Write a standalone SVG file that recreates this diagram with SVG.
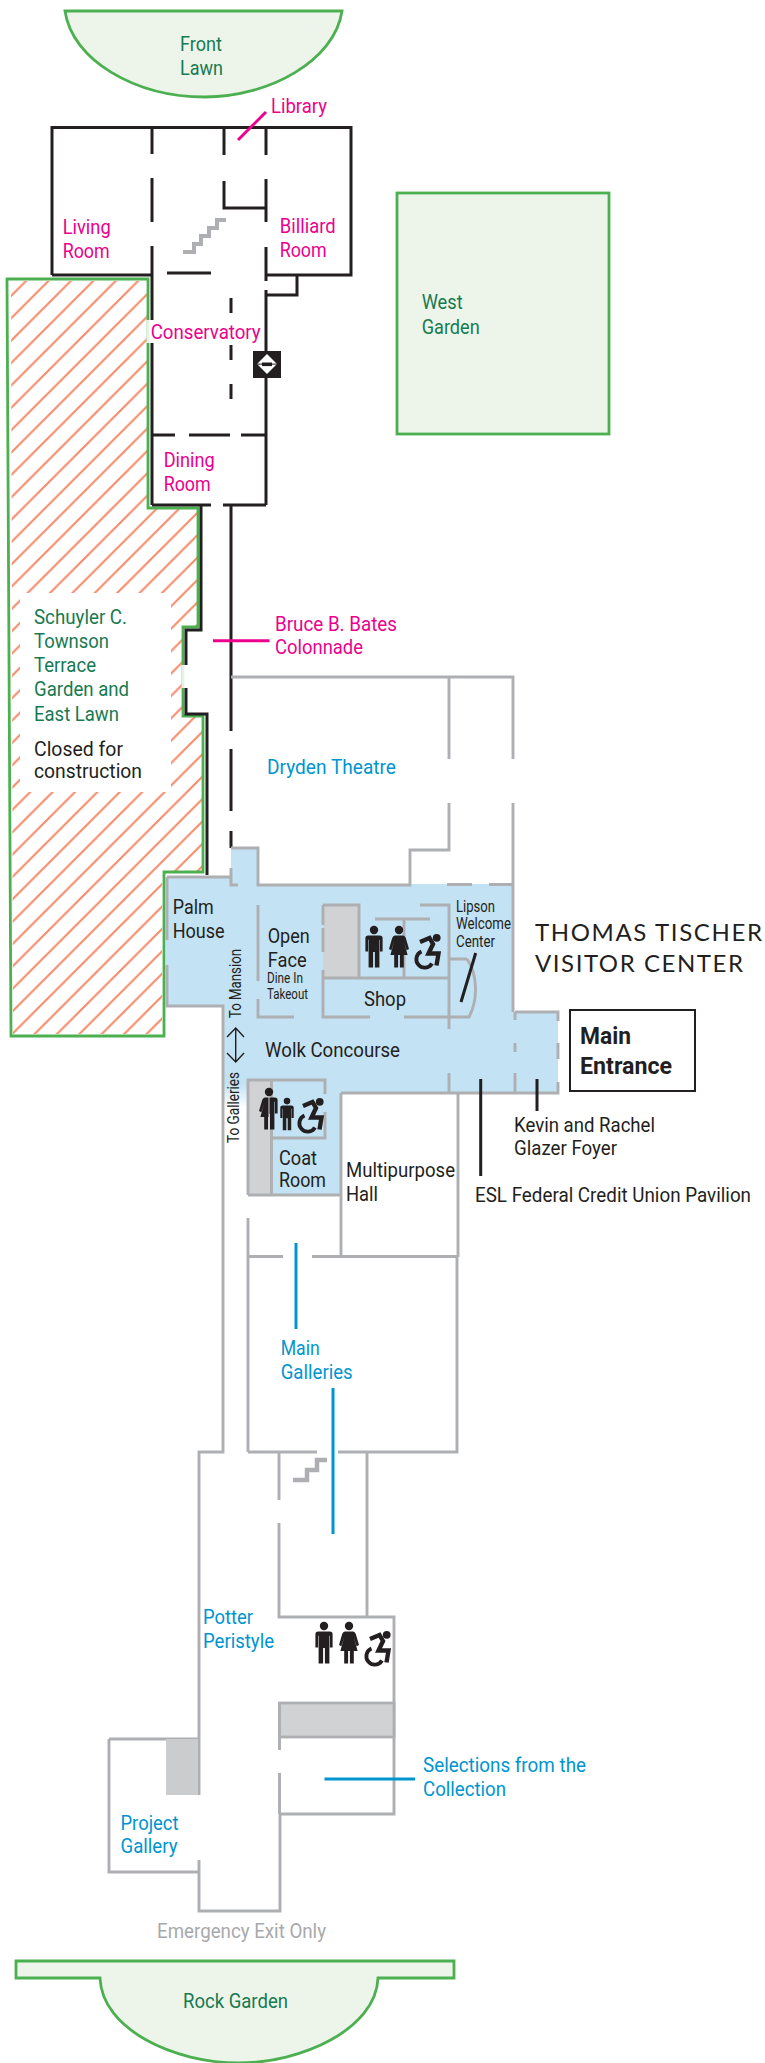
<svg xmlns="http://www.w3.org/2000/svg" width="765" height="2063" viewBox="0 0 765 2063">
<style>
text{font-family:Roboto,"Liberation Sans",sans-serif;font-size:21px}
.pk{fill:#ec008c}.gn{fill:#177a50}.bl{fill:#0095d0}.dk{fill:#231f20}.gy{fill:#a7a9ac}
.w{fill:none;stroke:#aeafb2;stroke-width:2.9}
.k{fill:none;stroke:#231f20;stroke-width:3}
.g{fill:#edf5eb;stroke:#4cb050;stroke-width:2.8}
.st{fill:#d1d2d4}
.sm{font-size:15px}.m{font-size:16px}
.h{font-family:Lato,"Open Sans",sans-serif;font-size:24px}
.b{font-weight:700;font-size:24px}
.lp{stroke:#ec008c;stroke-width:3}.lb{stroke:#0095d0;stroke-width:3}.lk{stroke:#231f20;stroke-width:3}
.stair{fill:none;stroke:#aeafb2;stroke-width:4}
</style>
<defs>
<pattern id="hatch" patternUnits="userSpaceOnUse" width="22.4" height="22.4" patternTransform="translate(15.8 0)">
<path d="M-2 24.4L24.4 -2M-2 2L2 -2M20.4 24.4L24.4 20.4" stroke="#f58b6b" stroke-width="2.1" fill="none"/>
</pattern>
<clipPath id="hc"><path d="M11 281H147V507H197V626H182V717H202V871H162V1034H13Z"/></clipPath>
<linearGradient id="fade" x1="0" y1="0" x2="0" y2="1"><stop offset="0" stop-color="#c3e2f3"/><stop offset="1" stop-color="#fff"/></linearGradient>
<g id="man"><circle cx="0" cy="4" r="4.2"/><path d="M-5.8 9.5H5.8Q8.6 9.5 8.6 12.3V25.5H5.9V13.8H5.4V41.5H.9V26H-.9V41.5H-5.4V13.8H-5.9V25.5H-8.6V12.3Q-8.6 9.5 -5.8 9.5Z"/></g>
<g id="woman"><circle cx="0" cy="4" r="4.2"/><path d="M-4.2 9.5H4.2Q5.8 9.5 6.8 12L10 23L7.6 24.2L4.8 15L8.6 29H4.8V41.5H.9V29H-.9V41.5H-4.8V29H-8.6L-4.8 15L-7.6 24.2L-10 23L-6.8 12Q-5.8 9.5 -4.2 9.5Z"/></g>
<g id="uni"><circle cx="0" cy="4" r="4.2"/><path d="M.5 9.5H5.8Q8.6 9.5 8.6 12.3V25.5H5.9V13.8H5.4V41.5H1V26H.5Z"/><path d="M-.5 9.5H-4.2Q-5.8 9.5 -6.8 12L-10 23L-7.6 24.2L-4.8 15L-8.6 29H-4.8V41.5H-1V29H-.5Z"/></g>
<g id="chair"><circle cx="22.7" cy="3.8" r="3.9" stroke="none"/><path d="M6 8L15.5 4L19 10L14.5 19.5H24.5L22.5 31.5" fill="none" stroke="#231f20" stroke-width="4.4"/><path d="M7.5 17.5A8.4 8.4 0 1 0 18 29.5" fill="none" stroke="#231f20" stroke-width="3.8"/></g>
</defs>

<g id="front-lawn"><path class="g" d="M65 11H342C335 60 270 97 205 97C135 97 72 60 65 11Z"/>
<text class="gn" x="180" y="51" textLength="42" lengthAdjust="spacingAndGlyphs">Front</text>
<text class="gn" x="180" y="75" textLength="43" lengthAdjust="spacingAndGlyphs">Lawn</text></g>

<g id="west-garden"><rect class="g" x="397" y="193" width="212" height="241"/>
<text class="gn" x="421.7" y="309" textLength="41" lengthAdjust="spacingAndGlyphs">West</text>
<text class="gn" x="421.7" y="334" textLength="58" lengthAdjust="spacingAndGlyphs">Garden</text></g>

<g id="terrace">
<path d="M7 279H148V508H198V627H183V716H203V872H164V1036H11Z" fill="#fff"/>
<path d="M7 279H148V508H198V627H183V716H203V872H164V1036H11Z" fill="url(#hatch)" clip-path="url(#hc)"/>
<path d="M7 279H148V508H198V627H183V716H203V872H164V1036H11Z" fill="none" stroke="#4cb050" stroke-width="2.8"/>
<rect x="146.5" y="320" width="4" height="23" fill="#fff" opacity=".85"/>
<rect x="181.5" y="665" width="4" height="23" fill="#fff" opacity=".85"/>
<rect x="20" y="593" width="151" height="199" fill="#fff"/>
<text class="gn" x="34" y="624" textLength="93" lengthAdjust="spacingAndGlyphs">Schuyler C.</text>
<text class="gn" x="34" y="648" textLength="75" lengthAdjust="spacingAndGlyphs">Townson</text>
<text class="gn" x="34" y="672" textLength="62" lengthAdjust="spacingAndGlyphs">Terrace</text>
<text class="gn" x="34" y="696" textLength="95" lengthAdjust="spacingAndGlyphs">Garden and</text>
<text class="gn" x="34" y="720.5" textLength="85" lengthAdjust="spacingAndGlyphs">East Lawn</text>
<text class="dk" x="34" y="756" textLength="89" lengthAdjust="spacingAndGlyphs">Closed for</text>
<text class="dk" x="34" y="778" textLength="108" lengthAdjust="spacingAndGlyphs">construction</text></g>

<g id="visitor-center-floor">
<path fill="#c3e2f3" d="M166 877H231V848H258V884H514V1012H558V1093H341V1195H247V1085H223V1006H166Z"/>
<rect x="224" y="1084" width="24" height="24" fill="url(#fade)"/>
<rect class="st" x="323" y="905" width="36" height="73"/>
<rect class="st" x="248" y="1080" width="23.5" height="115"/>
</g>

<g id="mansion-walls">
<path class="k" d="M152 128V154M152 178V222M152 246V320M152 343V505M52 275V127.5H351V275H266M152 275H52M224 128V155M224 181V208H266M266 128V155M266 179V222M266 247V281M266 290V505M297 275V295H266M167 273H211M231 298V313M231 345V360M231 384V399M152 435H175M189 435H230M241 435H266M152 505H211M223 505H266"/>
<path class="k" d="M201 505V630H186V665M186 688V714H207V875M231 505V731M231 749V811M231 831V848"/>
<path class="stair" d="M183 252H194V244H201V236H209V228H217V220H226"/>
<g id="elevator"><rect x="253" y="351" width="28" height="27" fill="#231f20"/><path d="M267 354L277 364L267 374L257 364Z" fill="#fff"/><rect x="262" y="362.5" width="10" height="3.6" fill="#231f20"/><rect x="257" y="363.6" width="20" height="1" fill="#231f20"/></g>
</g>

<g id="gallery-walls">
<path class="w" d="M231 677H513V759M513 803V1012M449 677V759M449 803V850H410V885H258V848H231M447 884.5H472M489 884.5H514"/>
<path class="w" d="M167 877H231M231 868V885H238M167 877V940M167 965V1006H223V1452H199V1739M258 905V981M258 999V1017H294"/>
<path class="w" d="M323 905H359V978M323 905V925M323 928V952M323 970V1017H370M404 1017H449M323 978H449M375 919H430M404 919V978M420 905H449V1029M449 959H467M405 1017H470M467 959C478 975 478 1000 469 1017M449 1073V1093M515 1012H558V1021M558 1043V1059M558 1082V1093H341M515 1012V1020M515 1043V1052M515 1073V1093M341 1093H375M406 1093H558"/>
<path class="w" d="M248 1195V1080H325V1094M325 1112V1138H271M271.5 1080V1195M248 1195H341V1093M248 1218V1452M248 1256.5H283M312 1256.5H458M341 1195V1256M458 1093V1257M457 1257V1452H338M248 1452H317M279 1452V1500M279 1523V1617H394V1814H279.5M367 1452V1617"/>
<path class="w" d="M279.5 1814V1773M279.5 1750V1703M199 1739V1795M109 1739H199M109 1739V1872H199M199 1860V1911H280V1814"/>
<rect x="279.5" y="1703" width="114.5" height="34" fill="#d1d2d4" stroke="#aeafb2" stroke-width="2.8"/>
<rect x="166" y="1739" width="32" height="56" fill="#cbcccd"/>
<path class="stair" stroke-width="4.5" style="stroke-width:4.5" d="M293 1480H307V1470H317V1460H327"/>
</g>

<g id="icons" fill="#231f20">
<use href="#man" x="374" y="926"/><use href="#woman" x="399" y="926"/><use href="#chair" x="414" y="934"/>
<use href="#man" x="324" y="1622"/><use href="#woman" x="349" y="1622"/><use href="#chair" x="364" y="1631"/>
<use href="#uni" x="269" y="1088"/><use href="#man" transform="translate(287 1098) scale(.78)"/><use href="#chair" x="297" y="1098"/>
</g>

<g id="connectors">
<line class="lp" x1="238" y1="140" x2="266" y2="112"/>
<line class="lp" x1="213" y1="640.7" x2="269.5" y2="640.7"/>
<line class="lk" x1="475.7" y1="953" x2="461" y2="1002"/>
<line class="lk" x1="480.7" y1="1079" x2="480.7" y2="1176"/>
<line class="lk" x1="537" y1="1079" x2="537" y2="1111"/>
<line class="lb" x1="296" y1="1243" x2="296" y2="1329"/>
<line class="lb" x1="333" y1="1388" x2="333" y2="1534"/>
<line class="lb" x1="324.5" y1="1779" x2="415" y2="1779"/>
<path d="M235.7 1028V1062M227 1037L235.7 1028L244 1037M227 1053L235.7 1062L244 1053" fill="none" stroke="#231f20" stroke-width="1.4"/>
</g>

<g id="labels">
<text class="pk" x="271" y="113" textLength="56" lengthAdjust="spacingAndGlyphs">Library</text>
<text class="pk" x="62.7" y="234" textLength="48" lengthAdjust="spacingAndGlyphs">Living</text>
<text class="pk" x="62.7" y="258" textLength="47" lengthAdjust="spacingAndGlyphs">Room</text>
<text class="pk" x="279.7" y="232.7" textLength="56" lengthAdjust="spacingAndGlyphs">Billiard</text>
<text class="pk" x="279.7" y="257" textLength="47" lengthAdjust="spacingAndGlyphs">Room</text>
<text class="pk" x="150.7" y="339" textLength="110" lengthAdjust="spacingAndGlyphs">Conservatory</text>
<text class="pk" x="163.7" y="467" textLength="51" lengthAdjust="spacingAndGlyphs">Dining</text>
<text class="pk" x="163.7" y="491" textLength="47" lengthAdjust="spacingAndGlyphs">Room</text>
<text class="pk" x="275" y="631" textLength="122" lengthAdjust="spacingAndGlyphs">Bruce B. Bates</text>
<text class="pk" x="275" y="654" textLength="88" lengthAdjust="spacingAndGlyphs">Colonnade</text>
<text class="bl" x="267" y="774" textLength="129" lengthAdjust="spacingAndGlyphs">Dryden Theatre</text>
<text class="dk" x="172.7" y="914" textLength="41" lengthAdjust="spacingAndGlyphs">Palm</text>
<text class="dk" x="172.7" y="938" textLength="52" lengthAdjust="spacingAndGlyphs">House</text>
<text class="dk" x="267.7" y="943" textLength="42" lengthAdjust="spacingAndGlyphs">Open</text>
<text class="dk" x="267.7" y="967" textLength="39" lengthAdjust="spacingAndGlyphs">Face</text>
<text class="dk sm" x="267" y="983" textLength="36" lengthAdjust="spacingAndGlyphs">Dine In</text>
<text class="dk sm" x="267" y="999" textLength="41" lengthAdjust="spacingAndGlyphs">Takeout</text>
<text class="dk" x="364" y="1006" textLength="42" lengthAdjust="spacingAndGlyphs">Shop</text>
<text class="dk m" x="456" y="912" textLength="39" lengthAdjust="spacingAndGlyphs">Lipson</text>
<text class="dk m" x="456" y="929" textLength="55" lengthAdjust="spacingAndGlyphs">Welcome</text>
<text class="dk m" x="456" y="947" textLength="39" lengthAdjust="spacingAndGlyphs">Center</text>
<text class="dk" x="265" y="1057" textLength="135" lengthAdjust="spacingAndGlyphs">Wolk Concourse</text>
<text class="dk m" transform="translate(240.7 1018) rotate(-90)" textLength="69" lengthAdjust="spacingAndGlyphs">To Mansion</text>
<text class="dk m" transform="translate(239 1143) rotate(-90)" textLength="71" lengthAdjust="spacingAndGlyphs">To Galleries</text>
<text class="dk" x="279" y="1165" textLength="38" lengthAdjust="spacingAndGlyphs">Coat</text>
<text class="dk" x="279" y="1187" textLength="47" lengthAdjust="spacingAndGlyphs">Room</text>
<text class="dk" x="346" y="1177" textLength="109" lengthAdjust="spacingAndGlyphs">Multipurpose</text>
<text class="dk" x="346" y="1201" textLength="32" lengthAdjust="spacingAndGlyphs">Hall</text>
<text class="dk h" x="535" y="941" textLength="227">THOMAS TISCHER</text>
<text class="dk h" x="535" y="972" textLength="208">VISITOR CENTER</text>
<text class="dk" x="514" y="1132" textLength="141" lengthAdjust="spacingAndGlyphs">Kevin and Rachel</text>
<text class="dk" x="514" y="1155" textLength="103" lengthAdjust="spacingAndGlyphs">Glazer Foyer</text>
<text class="dk" x="475" y="1202" textLength="276" lengthAdjust="spacingAndGlyphs">ESL Federal Credit Union Pavilion</text>
<text class="bl" x="280.7" y="1355" textLength="39" lengthAdjust="spacingAndGlyphs">Main</text>
<text class="bl" x="280.7" y="1379" textLength="72" lengthAdjust="spacingAndGlyphs">Galleries</text>
<text class="bl" x="203" y="1624" textLength="50" lengthAdjust="spacingAndGlyphs">Potter</text>
<text class="bl" x="203" y="1648" textLength="71" lengthAdjust="spacingAndGlyphs">Peristyle</text>
<text class="bl" x="423" y="1772" textLength="163" lengthAdjust="spacingAndGlyphs">Selections from the</text>
<text class="bl" x="423" y="1796" textLength="83" lengthAdjust="spacingAndGlyphs">Collection</text>
<text class="bl" x="120.5" y="1830" textLength="58" lengthAdjust="spacingAndGlyphs">Project</text>
<text class="bl" x="120.5" y="1853" textLength="57" lengthAdjust="spacingAndGlyphs">Gallery</text>
<text class="gy" x="157" y="1938" textLength="169" lengthAdjust="spacingAndGlyphs">Emergency Exit Only</text>
</g>

<g id="main-entrance"><rect x="570" y="1010" width="125" height="81" fill="#fff" stroke="#231f20" stroke-width="2"/>
<text class="dk b" x="580" y="1044" textLength="51" lengthAdjust="spacingAndGlyphs">Main</text>
<text class="dk b" x="580" y="1074" textLength="92" lengthAdjust="spacingAndGlyphs">Entrance</text></g>

<g id="rock-garden"><path class="g" d="M16 1961H454V1978H378C376 2030 300 2063 239 2063C175 2063 102 2030 100 1978H16Z"/>
<text class="gn" x="183" y="2008" textLength="105" lengthAdjust="spacingAndGlyphs">Rock Garden</text></g>
</svg>
